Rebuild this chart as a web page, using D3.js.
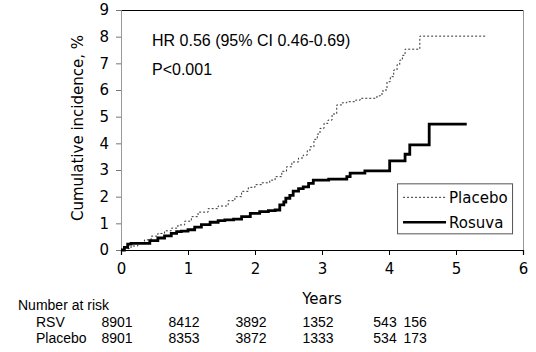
<!DOCTYPE html>
<html>
<head>
<meta charset="utf-8">
<script src="https://cdn.jsdelivr.net/npm/d3@7"></script>
<style>
  body { margin: 0; background: #fff; }
  svg { display: block; }
</style>
</head>
<body>
<div id="svg-container"></div>
<script>
// Set dimensions and margins of the chart
const width = 536;
const height = 352;
const margins = { top: 10, right: 13, bottom: 102, left: 121 };
const innerWidth = width - margins.left - margins.right;
const innerHeight = height - margins.top - margins.bottom;

// Data (years, cumulative incidence %)
const placeboYears = [0, 0.05, 0.15, 0.25, 0.35, 0.45, 0.55, 0.65, 0.75, 0.85, 0.95, 1.05, 1.15, 1.3, 1.45, 1.6, 1.7, 1.8, 1.9, 2.0, 2.1, 2.22, 2.3, 2.4, 2.47, 2.55, 2.65, 2.72, 2.78, 2.82, 2.88, 2.93, 2.97, 3.03, 3.09, 3.15, 3.22, 3.3, 3.37, 3.5, 3.57, 3.82, 3.87, 3.91, 3.97, 4.02, 4.07, 4.12, 4.16, 4.2, 4.24, 4.46, 5.46];
const placeboPct   = [0, 0.05, 0.15, 0.25, 0.38, 0.52, 0.62, 0.72, 0.82, 0.94, 1.08, 1.25, 1.42, 1.55, 1.65, 1.85, 2.0, 2.2, 2.35, 2.45, 2.52, 2.62, 2.75, 2.95, 3.12, 3.3, 3.45, 3.56, 3.72, 3.87, 4.15, 4.35, 4.56, 4.75, 4.87, 5.1, 5.44, 5.52, 5.56, 5.62, 5.69, 5.78, 5.85, 6.0, 6.31, 6.5, 6.75, 6.95, 7.12, 7.3, 7.53, 8.02, 8.02];

const rosuvaYears = [0, 0.05, 0.1, 0.15, 0.43, 0.55, 0.65, 0.75, 0.83, 0.9, 1.0, 1.1, 1.2, 1.33, 1.45, 1.55, 1.68, 1.8, 1.93, 2.07, 2.2, 2.3, 2.37, 2.43, 2.46, 2.52, 2.57, 2.65, 2.72, 2.8, 2.87, 3.1, 3.37, 3.42, 3.64, 4.01, 4.24, 4.31, 4.6, 5.16];
const rosuvaPct   = [0, 0.1, 0.22, 0.25, 0.35, 0.45, 0.53, 0.62, 0.69, 0.71, 0.76, 0.86, 0.95, 1.04, 1.1, 1.13, 1.16, 1.25, 1.37, 1.44, 1.48, 1.5, 1.69, 1.8, 1.94, 2.05, 2.21, 2.3, 2.37, 2.5, 2.62, 2.66, 2.75, 2.88, 2.97, 3.34, 3.59, 3.94, 4.72, 4.72];

const xTicks = [0, 1, 2, 3, 4, 5, 6];
const yTicks = [0, 1, 2, 3, 4, 5, 6, 7, 8, 9];

// Number at risk
const riskYears = [0, 1, 2, 3, 4, 4.45];
const riskRSV = [8901, 8412, 3892, 1352, 543, 156];
const riskPlacebo = [8901, 8353, 3872, 1333, 534, 173];

const series = [
  { name: "Placebo", values: placeboYears.map((x, i) => ({ x: x, y: placeboPct[i] })) },
  { name: "Rosuva", values: rosuvaYears.map((x, i) => ({ x: x, y: rosuvaPct[i] })) }
];

const axisFont = "'DejaVu Sans', Verdana, sans-serif";
const textFont = "'Liberation Sans', Arial, sans-serif";

const xScale = d3.scaleLinear().domain([0, 6]).range([0, innerWidth]);
const yScale = d3.scaleLinear().domain([0, 9]).range([innerHeight, 0]);

const svg = d3.select("#svg-container")
  .append("svg")
    .attr("width", width)
    .attr("height", height);

const mainG = svg.append("g")
  .attr("transform", `translate(${margins.left}, ${margins.top})`);

// frame: top and right borders
mainG.append("line")
  .attr("x1", 0).attr("x2", innerWidth).attr("y1", 0.5).attr("y2", 0.5)
  .attr("stroke", "#000").attr("stroke-width", 1.2);
mainG.append("line")
  .attr("x1", innerWidth + 0.5).attr("x2", innerWidth + 0.5).attr("y1", 0).attr("y2", innerHeight)
  .attr("stroke", "#999").attr("stroke-width", 1);

// Add y-axis
const yAxis = mainG.append("g")
  .call(d3.axisLeft(yScale).tickValues(yTicks).tickSize(5).tickPadding(7).tickFormat(d3.format("d")));
yAxis.select(".domain").attr("stroke", "#999");
yAxis.selectAll(".tick line").attr("stroke", "#777");
yAxis.selectAll("text")
  .style("font-family", axisFont)
  .style("font-size", "15px")
  .attr("fill", "#000");

// Add x-axis
const xAxis = mainG.append("g")
  .attr("transform", `translate(0, ${innerHeight})`)
  .call(d3.axisBottom(xScale).tickValues(xTicks).tickSize(5).tickPadding(8).tickFormat(d3.format("d")));
xAxis.select(".domain").attr("stroke", "#000").attr("stroke-width", 1.2);
xAxis.selectAll(".tick line").attr("stroke", "#000");
xAxis.selectAll("text")
  .style("font-family", axisFont)
  .style("font-size", "15px")
  .attr("fill", "#000");

// Lines
const line = d3.line()
  .x(d => xScale(d.x))
  .y(d => yScale(d.y))
  .curve(d3.curveStepAfter);

mainG.append("path")
  .attr("d", line(series[0].values))
  .attr("fill", "none")
  .attr("stroke", "#333")
  .attr("stroke-width", 1)
  .attr("stroke-dasharray", "2,2");

mainG.append("path")
  .attr("d", line(series[1].values))
  .attr("fill", "none")
  .attr("stroke", "#000")
  .attr("stroke-width", 2.8);

// Annotations
mainG.append("text")
  .attr("x", 31).attr("y", 36)
  .style("font-family", textFont)
  .style("font-size", "16px")
  .text("HR 0.56 (95% CI 0.46-0.69)");
mainG.append("text")
  .attr("x", 31).attr("y", 65)
  .style("font-family", textFont)
  .style("font-size", "16px")
  .text("P<0.001");

// Legend
const legend = mainG.append("g").attr("transform", `translate(${xScale(4.12)}, ${yScale(2.5)})`);
legend.append("rect")
  .attr("x", 0.5).attr("y", 0.5).attr("width", 115).attr("height", 50)
  .attr("fill", "#fff").attr("stroke", "#555").attr("stroke-width", 1);
series.forEach((s, i) => {
  const yy = 14 + i * 25;
  legend.append("line")
    .attr("x1", 6).attr("x2", 49).attr("y1", yy).attr("y2", yy)
    .attr("stroke", i === 0 ? "#333" : "#000")
    .attr("stroke-width", i === 0 ? 1 : 2.5)
    .attr("stroke-dasharray", i === 0 ? "2,2" : null);
  legend.append("text")
    .attr("x", 52).attr("y", yy + 6)
    .style("font-family", axisFont)
    .style("font-size", "15px")
    .text(s.name);
});

// Axis titles
mainG.append("text")
  .attr("transform", `translate(-38, ${innerHeight / 2 - 2}) rotate(-90)`)
  .attr("text-anchor", "middle")
  .style("font-family", axisFont)
  .style("font-size", "15px")
  .text("Cumulative incidence, %");

mainG.append("text")
  .attr("x", xScale(3)).attr("y", innerHeight + 54)
  .attr("text-anchor", "middle")
  .style("font-family", axisFont)
  .style("font-size", "15px")
  .text("Years");

// Number at risk table
const riskG = svg.append("g").style("font-family", textFont).style("font-size", "14px");
riskG.append("text").attr("x", 18).attr("y", 310).text("Number at risk");
riskG.append("text").attr("x", 36).attr("y", 327).text("RSV");
riskG.append("text").attr("x", 36).attr("y", 343).text("Placebo");
riskG.selectAll(".rsv")
  .data(riskRSV)
  .enter()
  .append("text")
    .attr("x", (d, i) => margins.left + xScale(riskYears[i]) - 4)
    .attr("y", 327)
    .attr("text-anchor", "middle")
    .text(d => d);
riskG.selectAll(".pla")
  .data(riskPlacebo)
  .enter()
  .append("text")
    .attr("x", (d, i) => margins.left + xScale(riskYears[i]) - 4)
    .attr("y", 343)
    .attr("text-anchor", "middle")
    .text(d => d);
</script>
</body>
</html>
